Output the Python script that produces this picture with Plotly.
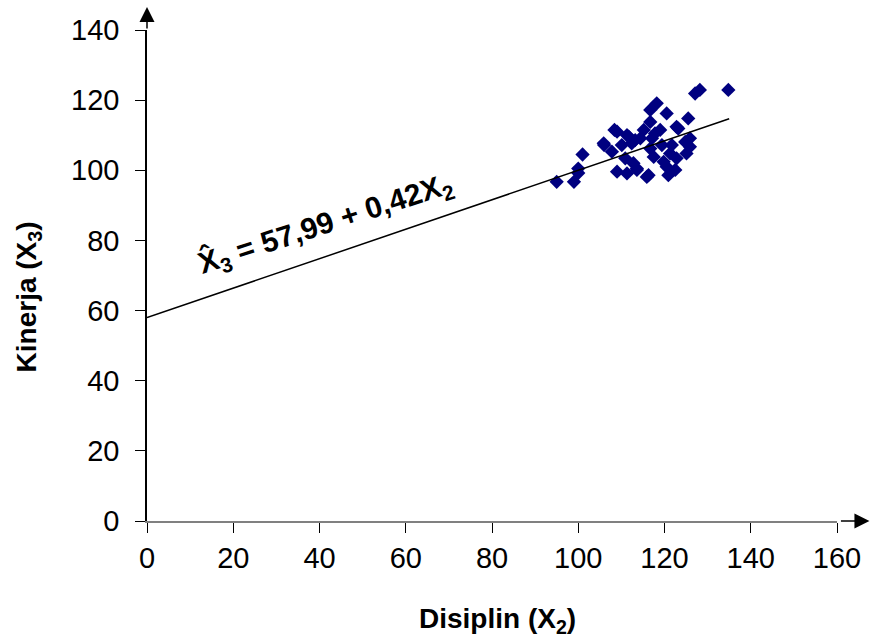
import plotly.graph_objects as go

# Disiplin (X2) vs Kinerja (X3) observations
disiplin = [95, 99, 100, 100, 101, 106, 105.9, 107.8, 108.4, 109, 109, 110.1, 110.9,
            111.3, 111.3, 111.7, 112.4, 112.8, 113.2, 113.6, 113.6, 114.4, 115.2, 115.9,
            116.3, 116.7, 116.7, 116.7, 117.1, 117.5, 117.8, 118.2, 119, 119.4, 119.8,
            120.5, 120.5, 120.9, 121.3, 121.7, 122.5, 122.8, 122.8, 123.2, 124.8, 125.1,
            125.5, 125.9, 125.9, 127.1, 128.2, 134.8]
kinerja = [96.7, 96.7, 99.2, 100.5, 104.5, 107.2, 107.7, 105.3, 111.5, 99.6, 111, 107.2, 103.4,
           110, 99.1, 109.6, 107.7, 102, 108.6, 100.1, 100.5, 109.1, 111.5, 98.1,
           98.6, 117.2, 113.8, 106.2, 109.1, 103.8, 110.5, 119.1, 111.5, 107.2, 102.4,
           116.2, 101, 98.6, 104.8, 107.2, 100.1, 112.4, 103.4, 111.9, 108.1, 104.8,
           114.8, 109.1, 106.7, 121.9, 122.9, 122.9]

# Fitted regression: X3 = 57.99 + 0.42 X2
intercept = 57.99
slope = 0.42
line_x = [0, 135]
line_y = [intercept + slope * v for v in line_x]

x_ticks = [0, 20, 40, 60, 80, 100, 120, 140, 160]
y_ticks = [0, 20, 40, 60, 80, 100, 120, 140]

FONT = "Liberation Sans, Arial, sans-serif"

fig = go.Figure()
fig.add_trace(go.Scatter(
    x=disiplin, y=kinerja, mode="markers",
    marker=dict(symbol="diamond", size=11, color="#000080", line=dict(width=0)),
    showlegend=False,
))
fig.add_trace(go.Scatter(
    x=line_x, y=line_y, mode="lines",
    line=dict(color="black", width=1.5), showlegend=False,
))

fig.update_layout(
    width=873, height=644,
    margin=dict(l=147, r=33, t=30, b=123),
    paper_bgcolor="white", plot_bgcolor="white",
    font=dict(family=FONT, color="black"),
    xaxis=dict(
        range=[0, 160], tickvals=x_ticks, ticks="outside", ticklen=10,
        tickcolor="black", tickwidth=1, showgrid=False, zeroline=False,
        showline=True, linecolor="#808080", linewidth=2,
        tickfont=dict(size=29), fixedrange=True,
    ),
    yaxis=dict(
        range=[0, 140], tickvals=y_ticks, ticks="outside", ticklen=10,
        tickcolor="black", tickwidth=1, showgrid=False, zeroline=False,
        showline=True, linecolor="black", linewidth=1.5,
        tickfont=dict(size=29), fixedrange=True, ticklabelstandoff=10,
    ),
    annotations=[
        # axis titles
        dict(x=0.508, y=-0.203, xref="paper", yref="paper",
             xanchor="center", yanchor="middle",
             text="<b>Disiplin (X<sub>2</sub>)</b>", showarrow=False,
             font=dict(size=28, family=FONT)),
        dict(x=-0.172, y=0.456, xref="paper", yref="paper",
             xanchor="center", yanchor="middle", textangle=-90,
             text="<b>Kinerja (X<sub>3</sub>)</b>", showarrow=False,
             font=dict(size=28, family=FONT)),
        # regression equation along the line
        dict(x=41.5, y=84.5, xref="x", yref="y",
             text="<b>X\u0302<sub>3</sub> = 57,99 + 0,42X<sub>2</sub></b>",
             showarrow=False, textangle=-18, font=dict(size=30, family=FONT)),
        # arrow on top of the y axis
        dict(x=0, y=1.047, xref="paper", yref="paper", ax=0, ay=23,
             showarrow=True, arrowhead=2, arrowsize=2, arrowwidth=1.5,
             arrowcolor="black", text=""),
        # arrow at the end of the x axis
        dict(x=1.047, y=0, xref="paper", yref="paper", ax=-30, ay=0,
             showarrow=True, arrowhead=2, arrowsize=2, arrowwidth=1.5,
             arrowcolor="black", text=""),
    ],
)

fig.write_html("out.html")
